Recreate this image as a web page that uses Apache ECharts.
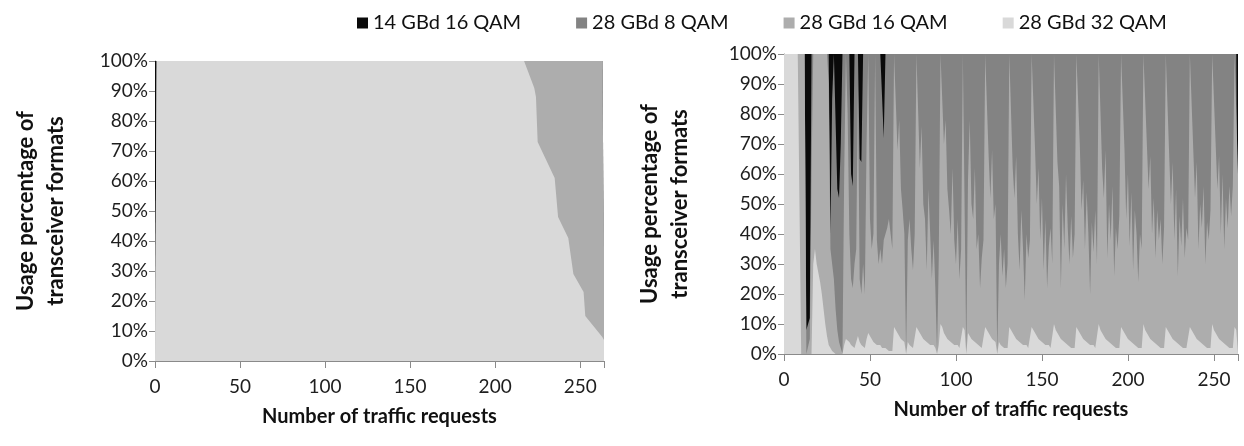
<!DOCTYPE html>
<html>
<head>
<meta charset="utf-8">
<script src="https://cdn.jsdelivr.net/npm/echarts@6/dist/echarts.min.js"></script>
<style>
html,body{margin:0;padding:0;background:#fff;}
#chart{width:1244px;height:446px;}
</style>
</head>
<body>
<div id="chart"></div>
<script>
// ---------- Data ----------
var seriesNames = ['14 GBd 16 QAM', '28 GBd 8 QAM', '28 GBd 16 QAM', '28 GBd 32 QAM'];
var xTicks = [0, 50, 100, 150, 200, 250];
var yTicks = [0, 10, 20, 30, 40, 50, 60, 70, 80, 90, 100];

// Left chart (breakpoints of the stacked 100% areas)
var xLeft   = [0, 1, 217, 223, 224, 225, 235, 237, 243, 246, 252, 253, 263, 264];
var l32QAM  = [0, 100, 100, 91, 88, 73, 61, 48, 41, 29, 23, 15, 8, 7];
var l16QAM  = [0, 0, 0, 9, 12, 27, 39, 52, 59, 71, 77, 85, 92, 30];
var l8QAM   = [0, 0, 0, 0, 0, 0, 0, 0, 0, 0, 0, 0, 0, 0];
var l14GBd  = [100, 0, 0, 0, 0, 0, 0, 0, 0, 0, 0, 0, 0, 63];

// Right chart (one value per traffic request, 0..264)
var r32QAM = [
100,100,100,100,100,100,100,100,100,100,
0,0,0,0,0,0,0,30,35,30,
27,24,20,15,10,6,3,2,1,1,
0,0,0,0,0,3,5,5,4,3,
3,2,2,6,4,3,3,2,5,7,
6,5,4,4,3,3,3,2,2,2,
2,1,1,1,9,8,7,6,5,5,
4,0,4,3,3,2,2,9,8,7,
6,5,5,4,4,3,3,3,2,0,
3,10,9,7,6,5,5,4,4,3,
3,3,2,2,9,8,0,7,6,5,
5,4,4,3,3,2,2,9,8,7,
6,5,5,4,0,4,3,3,2,2,
2,9,8,7,6,5,5,4,4,3,
3,3,2,2,9,8,7,6,5,5,
4,4,3,3,3,2,2,10,8,7,
6,5,5,4,4,3,3,2,2,2,
9,8,7,6,5,5,4,4,3,3,
3,2,2,10,8,7,6,5,5,4,
4,3,3,2,2,2,9,8,7,6,
5,5,4,4,3,3,2,2,2,10,
8,7,6,5,5,4,4,3,3,2,
2,2,9,8,7,6,5,5,4,4,
3,3,2,2,2,2,9,8,7,6,
5,5,4,4,3,3,2,2,2,10,
8,7,6,5,5,4,4,3,3,2,
2,2,9,8,8];
var r16QAM = [
0,0,0,0,0,0,0,0,0,0,
100,100,100,0,0,5,60,70,65,70,
73,76,80,85,90,94,87,33,29,24,
15,8,4,2,0,57,95,75,36,22,
19,28,33,84,21,17,27,18,65,93,
39,30,36,96,35,27,32,28,36,38,
40,44,39,34,91,92,61,72,50,43,
36,0,34,42,32,26,38,91,92,55,
70,45,40,24,51,37,22,35,20,0,
29,90,91,63,72,50,43,36,58,35,
27,42,23,33,91,92,0,51,72,45,
40,58,31,37,19,30,36,91,92,59,
46,63,40,46,0,26,37,23,33,20,
28,91,92,55,46,61,35,24,44,32,
15,37,30,36,91,92,61,44,57,33,
48,24,42,19,33,40,28,90,92,57,
50,17,45,31,56,39,27,44,30,38,
91,92,63,42,53,30,50,36,17,41,
31,46,28,90,92,55,46,63,27,46,
34,53,23,40,33,44,91,92,61,39,
55,31,50,24,45,37,22,38,33,90,
92,63,49,61,35,48,28,45,35,43,
28,40,91,92,59,44,59,33,51,22,
43,33,50,30,40,36,91,92,61,46,
59,30,46,38,53,27,42,36,46,90,
92,63,49,61,35,56,31,49,39,54,
44,54,91,92,52];
var r8QAM = [
0,0,0,0,0,0,0,0,0,0,
0,0,0,8,10,7,40,0,0,0,
0,0,0,0,0,0,10,5,55,75,
85,47,48,68,100,40,0,20,60,35,
34,70,65,10,40,44,70,80,30,0,
55,65,60,0,62,70,65,70,34,60,
58,55,60,65,0,0,32,22,45,52,
60,100,62,55,65,72,60,0,0,38,
24,50,55,72,45,60,75,62,78,100,
68,0,0,30,22,45,52,60,38,62,
70,55,75,65,0,0,100,42,22,50,
55,38,65,60,78,68,62,0,0,34,
48,32,55,50,100,70,60,74,65,78,
70,0,0,38,48,34,60,72,52,65,
82,60,68,62,0,0,32,50,38,62,
48,72,55,78,64,58,70,0,0,36,
44,78,50,65,40,58,70,54,68,60,
0,0,30,52,42,65,46,60,80,56,
66,52,70,0,0,38,48,32,68,50,
62,44,74,58,65,54,0,0,32,55,
40,64,46,72,52,60,76,60,65,0,
0,30,45,34,60,48,68,52,62,55,
70,58,0,0,34,50,36,62,45,74,
54,64,48,68,58,62,0,0,32,48,
36,65,50,58,44,70,56,62,52,0,
0,30,45,34,60,40,65,48,58,44,
54,44,0,0,40];
var r14GBd = [
0,0,0,0,0,0,0,0,0,0,
0,0,0,92,90,88,0,0,0,0,
0,0,0,0,0,0,0,60,15,0,
0,45,48,30,0,0,0,0,0,40,
44,0,0,0,35,36,0,0,0,0,
0,0,0,0,0,0,0,0,28,0,
0,0,0,0,0,0,0,0,0,0,
0,0,0,0,0,0,0,0,0,0,
0,0,0,0,0,0,0,0,0,0,
0,0,0,0,0,0,0,0,0,0,
0,0,0,0,0,0,0,0,0,0,
0,0,0,0,0,0,0,0,0,0,
0,0,0,0,0,0,0,0,0,0,
0,0,0,0,0,0,0,0,0,0,
0,0,0,0,0,0,0,0,0,0,
0,0,0,0,0,0,0,0,0,0,
0,0,0,0,0,0,0,0,0,0,
0,0,0,0,0,0,0,0,0,0,
0,0,0,0,0,0,0,0,0,0,
0,0,0,0,0,0,0,0,0,0,
0,0,0,0,0,0,0,0,0,0,
0,0,0,0,0,0,0,0,0,0,
0,0,0,0,0,0,0,0,0,0,
0,0,0,0,0,0,0,0,0,0,
0,0,0,0,0,0,0,0,0,0,
0,0,0,0,0,0,0,0,0,0,
0,0,0,0,0];

// ---------- Styling ----------
var colors = {'14 GBd 16 QAM':'#0a0a0a','28 GBd 8 QAM':'#838383','28 GBd 16 QAM':'#adadad','28 GBd 32 QAM':'#d9d9d9'};
var FONT = 'Lato';
var axisColor = '#8a8a8a';
var labelColor = '#1e1e1e';

// Stacked 100% areas: cumulative tops, drawn top layer first so lower layers overlay it.
function cumulate(layers){
  var out = [], acc = layers[0].map(function(){ return 0; });
  layers.forEach(function(arr){
    acc = acc.map(function(a, i){ return a + arr[i]; });
    out.push(acc.slice());
  });
  return out; // [cum32, cum16, cum8, cum14]
}
function pairs(xs, ys){ return ys.map(function(v,i){ return [xs[i], v]; }); }
var xRight = r32QAM.map(function(v,i){ return i; });

function mkSeries(name, xs, ys, idx){
  return {
    name: name, type: 'line',
    xAxisIndex: idx, yAxisIndex: idx,
    data: pairs(xs, ys),
    symbol: 'none', showSymbol: false, smooth: false,
    lineStyle: {width: 0, color: colors[name]},
    itemStyle: {color: colors[name]},
    areaStyle: {color: colors[name], opacity: 1, origin: 'start'},
    emphasis: {disabled: true}, silent: true
  };
}

function xAxisCfg(idx){
  return {
    type: 'value', gridIndex: idx, min: 0, max: 264, interval: 50,
    axisLine: {show: true, lineStyle: {color: axisColor, width: 1}},
    axisTick: {show: true, length: 7, lineStyle: {color: axisColor}},
    axisLabel: {color: labelColor, fontFamily: FONT, fontSize: 19, margin: 16,
      formatter: function(v){ return xTicks.indexOf(v) >= 0 ? String(v) : ''; }},
    splitLine: {show: false},
    name: 'Number of traffic requests', nameLocation: 'middle', nameGap: 46,
    nameTextStyle: {fontFamily: FONT, fontWeight: 'bold', fontSize: 20, color: '#111'}
  };
}
function yAxisCfg(idx, gap){
  return {
    type: 'value', gridIndex: idx, min: 0, max: 100, interval: 10,
    axisLine: {show: true, lineStyle: {color: axisColor, width: 1}},
    axisTick: {show: true, length: 6, lineStyle: {color: axisColor}},
    axisLabel: {color: labelColor, fontFamily: FONT, fontSize: 19, margin: 7,
      formatter: function(v){ return yTicks.indexOf(v) >= 0 ? v + '%' : ''; }},
    splitLine: {show: false},
    name: 'Usage percentage of\ntransceiver formats', nameLocation: 'middle', nameGap: gap,
    nameTextStyle: {fontFamily: FONT, fontWeight: 'bold', fontSize: 22, lineHeight: 30, color: '#111'}
  };
}

var series = [];
var L = cumulate([l32QAM, l16QAM, l8QAM, l14GBd]);
var R = cumulate([r32QAM, r16QAM, r8QAM, r14GBd]);
[[L, xLeft, 0], [R, xRight, 1]].forEach(function(g){
  var c = g[0], xs = g[1], idx = g[2];
  series.push(mkSeries('14 GBd 16 QAM', xs, c[3], idx));
  series.push(mkSeries('28 GBd 8 QAM', xs, c[2], idx));
  series.push(mkSeries('28 GBd 16 QAM', xs, c[1], idx));
  series.push(mkSeries('28 GBd 32 QAM', xs, c[0], idx));
});

var chart = echarts.init(document.getElementById('chart'), null, {renderer: 'canvas'});
chart.setOption({
  animation: false,
  backgroundColor: '#ffffff',
  legend: {
    data: seriesNames, top: 8, left: 352, icon: 'rect', itemWidth: 11, itemHeight: 11,
    itemGap: 55, selectedMode: false,
    textStyle: {fontFamily: FONT, fontSize: 20, color: '#111'}
  },
  grid: [
    {left: 155, top: 61, width: 449, height: 300},
    {left: 784, top: 54, width: 454, height: 300}
  ],
  xAxis: [xAxisCfg(0), xAxisCfg(1)],
  yAxis: [yAxisCfg(0, 84), yAxisCfg(1, 89)],
  series: series
});
</script>
</body>
</html>
